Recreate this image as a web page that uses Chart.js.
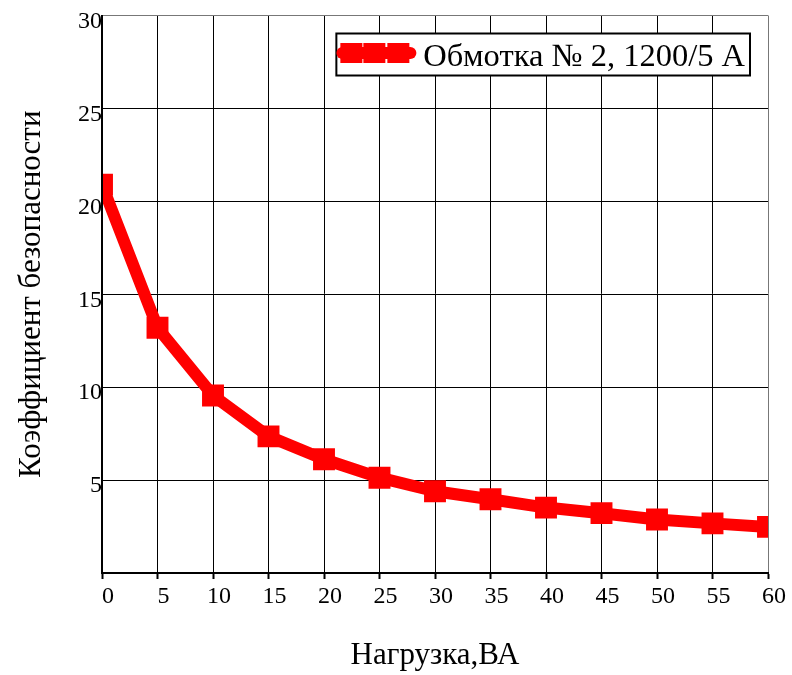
<!DOCTYPE html>
<html>
<head>
<meta charset="utf-8">
<script src="https://cdn.jsdelivr.net/npm/chart.js@4"></script>
<style>
  html, body { margin: 0; padding: 0; background: #fff; }
  #wrap { width: 792px; height: 675px; position: relative; }
</style>
</head>
<body>
<div id="wrap"><canvas id="c"></canvas></div>
<script>
// Load on the winding, VA
const loads = [0, 5, 10, 15, 20, 25, 30, 35, 40, 45, 50, 55, 60];
// Safety factor at each load
const safetyFactor = [20.9, 13.2, 9.55, 7.35, 6.12, 5.13, 4.4, 3.97, 3.52, 3.22, 2.88, 2.67, 2.48];
const seriesName = 'Обмотка № 2, 1200/5 А';
const xTitle = 'Нагрузка,ВА';
const yTitle = 'Коэффициент безопасности';
const xTicks = { min: 0, max: 60, step: 5 };
const yTicks = { min: 0, max: 30, step: 5 };

const SERIF = '"Liberation Serif", "Times New Roman", serif';
const RED = '#ff0000';

// Boxed legend drawn inside the plot area, top-right corner
const boxedLegend = {
  id: 'boxedLegend',
  afterDatasetsDraw(chart) {
    const { ctx, chartArea } = chart;
    const fontSize = 32.5;
    ctx.save();
    ctx.font = fontSize + 'px ' + SERIF;
    const textW = ctx.measureText(seriesName).width;
    const sampleW = 87;
    const boxH = 42;
    const right = chartArea.right - 18;
    const top = chartArea.top + 18;
    const boxW = sampleW + textW + 5;
    const left = right - boxW;
    // box
    ctx.fillStyle = '#fff';
    ctx.fillRect(left, top, boxW, boxH);
    ctx.lineWidth = 2;
    ctx.strokeStyle = '#000';
    ctx.strokeRect(left, top, boxW, boxH);
    // sample line with markers
    const cy = top + 19.5;
    ctx.strokeStyle = RED;
    ctx.lineWidth = 12;
    ctx.lineCap = 'round';
    ctx.beginPath();
    ctx.moveTo(left + 6, cy);
    ctx.lineTo(left + 74, cy);
    ctx.stroke();
    ctx.fillStyle = RED;
    [15, 38, 62].forEach(dx => ctx.fillRect(left + dx - 11, cy - 10, 22, 20));
    // label
    ctx.fillStyle = '#000';
    ctx.textBaseline = 'alphabetic';
    ctx.textAlign = 'left';
    ctx.fillText(seriesName, left + sampleW, top + 32);
    ctx.restore();
  }
};

const points = loads.map((x, i) => ({ x, y: safetyFactor[i] }));

new Chart(document.getElementById('c'), {
  type: 'line',
  data: {
    datasets: [{
      label: seriesName,
      data: points,
      borderColor: RED,
      backgroundColor: RED,
      borderWidth: 12,
      borderJoinStyle: 'round',
      pointStyle: 'rect',
      pointRadius: 15.5,
      pointHoverRadius: 15.5,
      pointBorderWidth: 0,
      pointBackgroundColor: RED,
      clip: { left: -1, right: 0, top: 0, bottom: 0 },
      tension: 0
    }]
  },
  options: {
    responsive: true,
    maintainAspectRatio: false,
    animation: false,
    events: [],
    layout: { padding: { top: 13, right: 24, left: 0, bottom: 0 } },
    plugins: {
      legend: { display: false },
      tooltip: { enabled: false }
    },
    scales: {
      x: {
        type: 'linear',
        min: xTicks.min,
        max: xTicks.max,
        afterFit(scale) { scale.height = 102; },
        ticks: {
          stepSize: xTicks.step,
          color: '#000',
          font: { family: SERIF, size: 24 },
          padding: 3.5,
          labelOffset: 6,
          maxRotation: 0
        },
        grid: {
          color: c => (c.tick && c.tick.value === xTicks.max) ? '#777' : '#000',
          lineWidth: 1,
          drawTicks: true,
          tickLength: 6,
          tickColor: '#000',
          tickWidth: 2
        },
        border: { display: true, color: '#000', width: 2 },
        title: {
          display: true,
          text: xTitle,
          color: '#000',
          font: { family: SERIF, size: 31 },
          padding: { top: 0, bottom: 0.2 }
        }
      },
      y: {
        type: 'linear',
        min: yTicks.min,
        max: yTicks.max,
        afterFit(scale) { scale.width = 102; },
        ticks: {
          stepSize: yTicks.step,
          color: '#000',
          font: { family: SERIF, size: 24 },
          padding: 0,
          labelOffset: 6,
          callback: v => (v === 0 ? '' : String(v))
        },
        grid: {
          color: c => (c.tick && c.tick.value === yTicks.max) ? '#777' : '#000',
          lineWidth: 1,
          drawTicks: false
        },
        border: { display: true, color: '#000', width: 2 },
        title: {
          display: true,
          text: yTitle,
          color: '#000',
          font: { family: SERIF, size: 31 },
          padding: { top: 12.9, bottom: 0 }
        }
      }
    }
  },
  plugins: [boxedLegend]
});
</script>
</body>
</html>
